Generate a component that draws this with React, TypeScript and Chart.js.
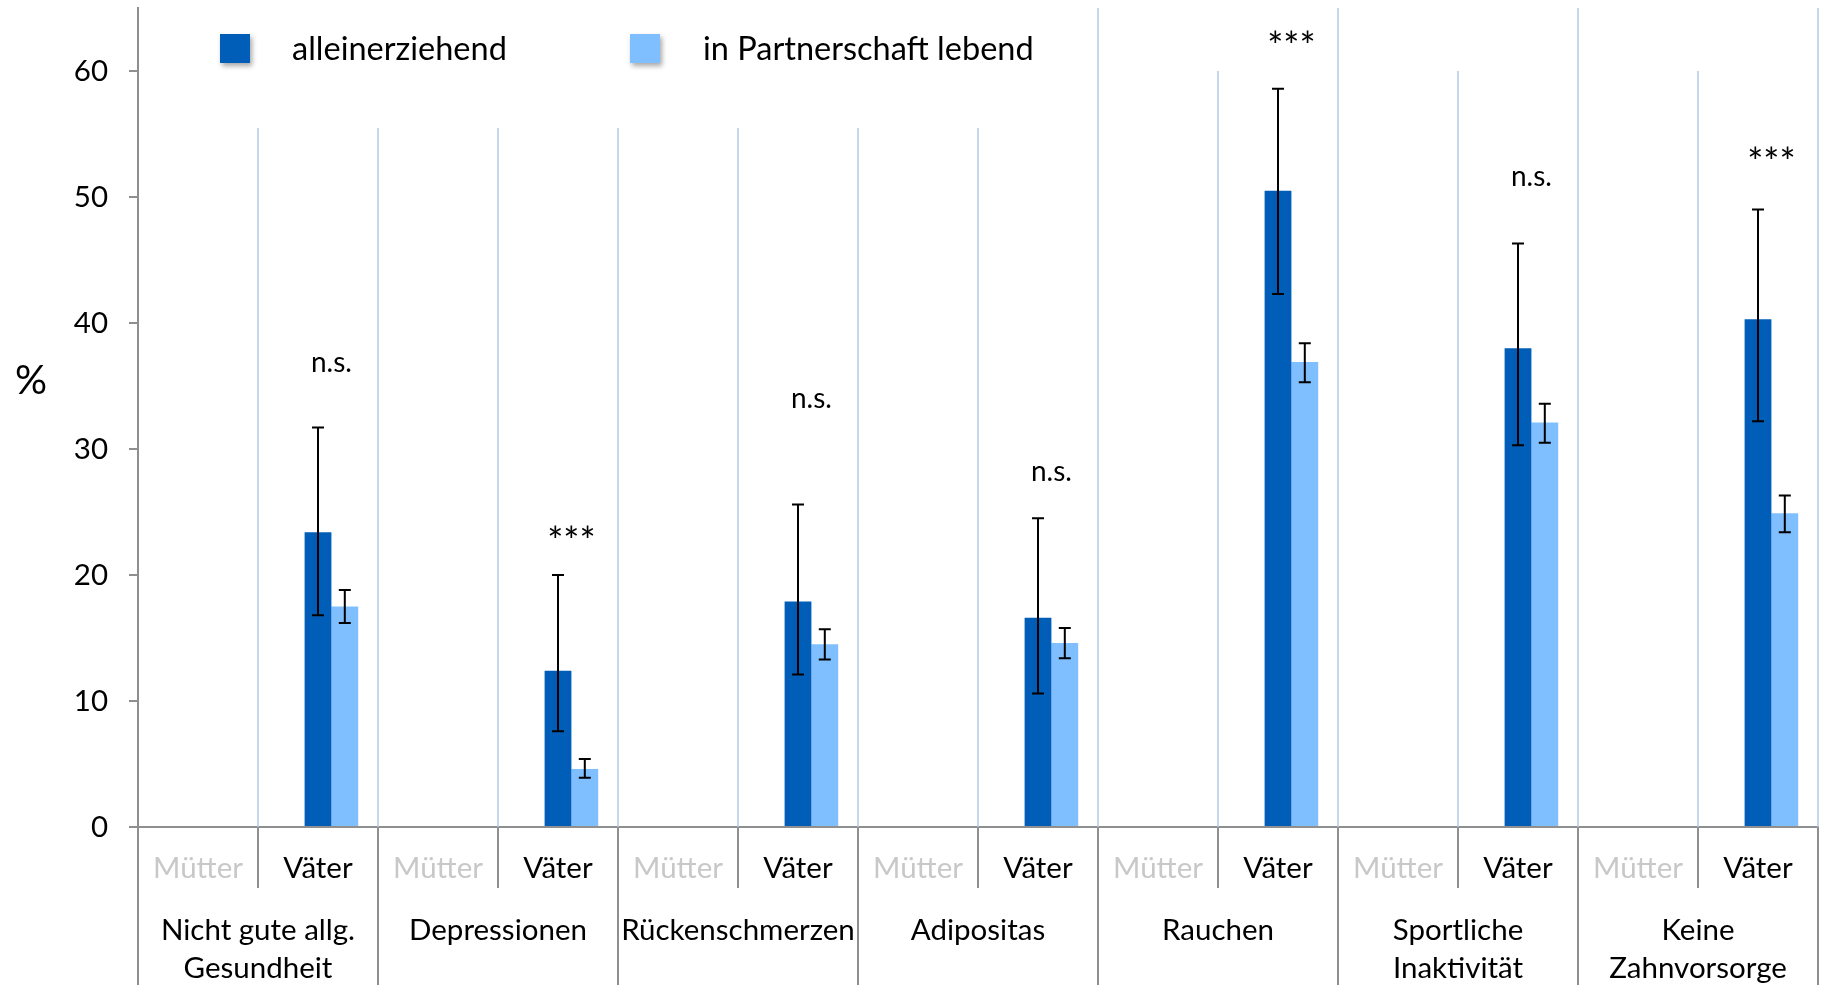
import React, { useEffect, useRef } from "react";
import { Chart, registerables } from "chart.js";

Chart.register(...registerables);

// Outcome groups (two-line labels where the text wraps)
const groups: string[][] = [
  ["Nicht gute allg.", "Gesundheit"],
  ["Depressionen"],
  ["Rückenschmerzen"],
  ["Adipositas"],
  ["Rauchen"],
  ["Sportliche", "Inaktivität"],
  ["Keine", "Zahnvorsorge"],
];
const subLabels = ["Mütter", "Väter"];
const seriesNames = ["alleinerziehend", "in Partnerschaft lebend"];

// Prevalence in % for fathers, with 95% confidence limits
const singleValues = [23.4, 12.4, 17.9, 16.6, 50.5, 38.0, 40.3];
const singleLow = [16.8, 7.6, 12.1, 10.6, 42.3, 30.3, 32.2];
const singleHigh = [31.7, 20.0, 25.6, 24.5, 58.6, 46.3, 49.0];
const partnerValues = [17.5, 4.6, 14.5, 14.6, 36.9, 32.1, 24.9];
const partnerLow = [16.2, 3.9, 13.3, 13.4, 35.3, 30.5, 23.4];
const partnerHigh = [18.8, 5.4, 15.7, 15.8, 38.4, 33.6, 26.3];

// Significance markers and the value level they sit at
const sigLabels = ["n.s.", "***", "n.s.", "n.s.", "***", "n.s.", "***"];
const sigLevels = [36.8, 23.3, 34.0, 28.2, 62.6, 51.6, 53.4];

const yTicks = [0, 10, 20, 30, 40, 50, 60];
const yMax = 65;

const xLabels = groups.flatMap(() => subLabels);
const toSlots = (vals: number[]) =>
  xLabels.map((_, i) => (i % 2 === 1 ? vals[(i - 1) / 2] : null));

const FONT = "Lato, 'Open Sans', sans-serif";
const DARK = "#005EB8";
const LIGHT = "#80BFFF";
const GRID_BLUE = "#B4C7E7";
const AXIS_GREY = "#8F8F8F";

const decorPlugin = {
  id: "decor",
  beforeDatasetsDraw(chart: any) {
    const { ctx, chartArea, scales } = chart;
    const x = scales.x;
    const y = scales.y;
    const step = x.getPixelForValue(1) - x.getPixelForValue(0);
    ctx.save();
    // vertical separators inside the plot
    ctx.strokeStyle = GRID_BLUE;
    ctx.lineWidth = 1.5;
    for (let k = 1; k <= xLabels.length; k++) {
      const xx = x.getPixelForValue(k - 1) + step / 2;
      const top = k % 2 === 0 ? chartArea.top : y.getPixelForValue(60);
      ctx.beginPath();
      ctx.moveTo(xx, top);
      ctx.lineTo(xx, chartArea.bottom);
      ctx.stroke();
    }
    // legend panel
    ctx.fillStyle = "#FFFFFF";
    ctx.fillRect(chartArea.left + 1, chartArea.top, 950, 120);
    const items = [
      { name: seriesNames[0], color: DARK, bx: 220, tx: 292 },
      { name: seriesNames[1], color: LIGHT, bx: 630, tx: 703 },
    ];
    for (const it of items) {
      ctx.save();
      ctx.shadowColor = "rgba(0,0,0,0.35)";
      ctx.shadowBlur = 5;
      ctx.shadowOffsetX = 2;
      ctx.shadowOffsetY = 3;
      ctx.fillStyle = it.color;
      ctx.fillRect(it.bx, 34, 30, 29);
      ctx.restore();
      ctx.fillStyle = "#000";
      ctx.font = `32.5px ${FONT}`;
      ctx.textAlign = "left";
      ctx.textBaseline = "middle";
      ctx.fillText(it.name, it.tx, 50);
    }
    ctx.restore();
  },
  afterDatasetsDraw(chart: any) {
    const { ctx, scales } = chart;
    const y = scales.y;
    const metaA = chart.getDatasetMeta(1);
    const metaB = chart.getDatasetMeta(2);
    ctx.save();
    ctx.strokeStyle = "#000";
    ctx.lineWidth = 2;
    const drawErr = (cx: number, lo: number, hi: number) => {
      const yt = y.getPixelForValue(hi);
      const yb = y.getPixelForValue(lo);
      ctx.beginPath();
      ctx.moveTo(cx, yt);
      ctx.lineTo(cx, yb);
      ctx.moveTo(cx - 6, yt);
      ctx.lineTo(cx + 6, yt);
      ctx.moveTo(cx - 6, yb);
      ctx.lineTo(cx + 6, yb);
      ctx.stroke();
    };
    groups.forEach((_, g) => {
      const a = metaA.data[2 * g + 1];
      const b = metaB.data[2 * g + 1];
      drawErr(a.x, singleLow[g], singleHigh[g]);
      drawErr(b.x, partnerLow[g], partnerHigh[g]);
      ctx.fillStyle = "#000";
      ctx.textAlign = "center";
      const cx = (a.x + b.x) / 2;
      const cy = y.getPixelForValue(sigLevels[g]);
      if (sigLabels[g].startsWith("*")) {
        // asterisks sit high in the em box: place by glyph centre
        const size = 38;
        ctx.font = `${size}px ${FONT}`;
        ctx.textBaseline = "alphabetic";
        ctx.fillText(sigLabels[g], cx, cy + size * 0.57);
      } else {
        ctx.font = `28px ${FONT}`;
        ctx.textBaseline = "middle";
        ctx.fillText(sigLabels[g], cx, cy);
      }
    });
    ctx.restore();
  },
  afterDraw(chart: any) {
    const { ctx, chartArea, scales, height } = chart;
    const x = scales.x;
    const step = x.getPixelForValue(1) - x.getPixelForValue(0);
    ctx.save();
    ctx.strokeStyle = AXIS_GREY;
    ctx.lineWidth = 2;
    // axis line continued through the label area
    ctx.beginPath();
    ctx.moveTo(chartArea.left, chartArea.bottom);
    ctx.lineTo(chartArea.left, height);
    for (let k = 1; k <= xLabels.length; k++) {
      const xx = x.getPixelForValue(k - 1) + step / 2;
      ctx.moveTo(xx, chartArea.bottom);
      ctx.lineTo(xx, k % 2 === 0 ? height : chartArea.bottom + 61);
    }
    ctx.stroke();
    // sub-category labels
    ctx.font = `29.5px ${FONT}`;
    ctx.textAlign = "center";
    ctx.textBaseline = "middle";
    xLabels.forEach((lab, i) => {
      ctx.fillStyle = i % 2 === 0 ? "#C8C8C8" : "#000";
      ctx.fillText(lab, x.getPixelForValue(i), chartArea.bottom + 41);
    });
    // group labels
    ctx.fillStyle = "#000";
    groups.forEach((lines, g) => {
      const cx = x.getPixelForValue(2 * g) + step / 2;
      lines.forEach((line, j) => {
        ctx.fillText(line, cx, chartArea.bottom + 103 + j * 38);
      });
    });
    // axis unit
    ctx.font = `40px ${FONT}`;
    ctx.fillText("%", 31, 381);
    ctx.restore();
  },
};

export default function App() {
  const canvasRef = useRef<HTMLCanvasElement | null>(null);

  useEffect(() => {
    document.body.style.margin = "0";
    const canvas = canvasRef.current;
    if (!canvas) return;
    const chart = new Chart(canvas, {
      type: "bar",
      data: {
        labels: xLabels,
        datasets: [
          {
            label: "",
            data: xLabels.map(() => null),
            backgroundColor: "rgba(0,0,0,0)",
          },
          {
            label: seriesNames[0],
            data: toSlots(singleValues),
            backgroundColor: DARK,
          },
          {
            label: seriesNames[1],
            data: toSlots(partnerValues),
            backgroundColor: LIGHT,
          },
        ],
      },
      options: {
        responsive: false,
        animation: false,
        devicePixelRatio: 1,
        datasets: {
          bar: { categoryPercentage: 0.67, barPercentage: 1.0 },
        },
        layout: { padding: { top: 8, right: 7, left: 0, bottom: 0 } },
        plugins: {
          legend: { display: false },
          tooltip: { enabled: false },
        },
        scales: {
          x: {
            ticks: { display: false },
            grid: { display: false },
            border: { display: true, color: AXIS_GREY, width: 2 },
            afterFit: (scale: any) => {
              scale.height = 158;
              scale.paddingLeft = 0;
              scale.paddingRight = 0;
            },
          },
          y: {
            min: 0,
            max: yMax,
            afterBuildTicks: (scale: any) => {
              scale.ticks = yTicks.map((v) => ({ value: v }));
            },
            ticks: {
              font: { family: FONT, size: 29.5 },
              color: "#000",
              padding: 21,
            },
            grid: {
              display: true,
              drawOnChartArea: false,
              drawTicks: true,
              tickLength: 9,
              color: AXIS_GREY,
              lineWidth: 2,
            },
            border: { display: true, color: AXIS_GREY, width: 2 },
            afterFit: (scale: any) => {
              scale.width = 138;
              scale.paddingTop = 0;
              scale.paddingBottom = 0;
            },
          },
        },
      },
      plugins: [decorPlugin],
    });
    return () => chart.destroy();
  }, []);

  return (
    <div style={{ position: "absolute", left: 0, top: 0, width: 1825, height: 985 }}>
      <canvas ref={canvasRef} width={1825} height={985} style={{ display: "block" }} />
    </div>
  );
}
